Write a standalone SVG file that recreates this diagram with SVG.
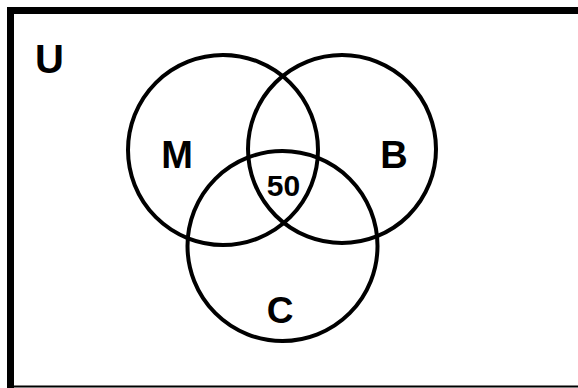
<svg xmlns="http://www.w3.org/2000/svg" width="578" height="388" viewBox="0 0 578 388">
<style>
.set{fill:none;stroke:#000;stroke-width:4}
.lbl{font-family:"Liberation Sans",Arial,sans-serif;font-weight:bold;fill:#000;text-anchor:middle}
</style>
<rect x="0" y="0" width="578" height="388" fill="#fff"/>
<g id="universe">
<rect x="7" y="7" width="571" height="7" fill="#000"/>
<rect x="7" y="7" width="7" height="381" fill="#000"/>
<rect x="14" y="385.5" width="564" height="2" fill="#000"/>
<text class="lbl" x="49.5" y="73" font-size="40">U</text>
</g>
<g id="M">
<circle class="set" cx="223" cy="150" r="95"/>
<text class="lbl" x="177" y="168" font-size="38">M</text>
</g>
<g id="B">
<circle class="set" cx="342" cy="149" r="94"/>
<text class="lbl" x="394" y="168" font-size="38">B</text>
</g>
<g id="C">
<circle class="set" cx="282.5" cy="246" r="95"/>
<text class="lbl" x="280" y="323" font-size="37">C</text>
</g>
<g id="center">
<text class="lbl" x="283.5" y="196" font-size="30">50</text>
</g>
</svg>
